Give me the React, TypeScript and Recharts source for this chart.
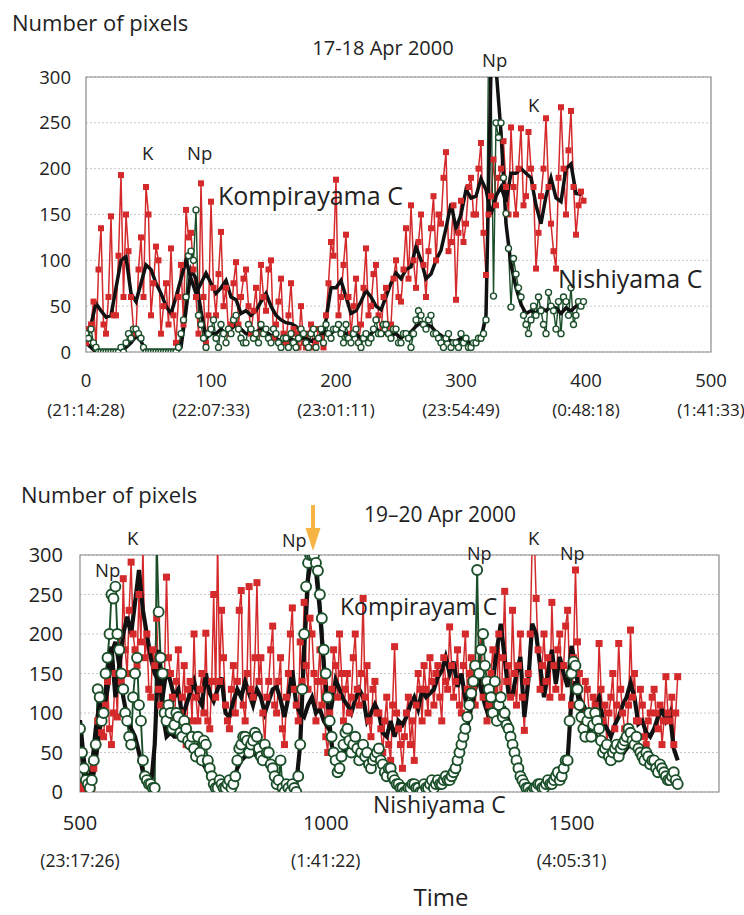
import React from "react";
import {
  ComposedChart,
  Line,
  XAxis,
  YAxis,
  CartesianGrid,
  ReferenceArea,
} from "recharts";

const FONT = "'Open Sans', 'Liberation Sans', Arial, sans-serif";
const TEXT = "#222";
const RED = "#d42a2c";
const GREEN = "#1b4f2a";
const AVG = "#111";

// 17-18 Apr 2000: raw counts every 2 frames, running means every 4 frames
const TOP_START = 0;
const TOP_RAW_STEP = 2;
const TOP_AVG_STEP = 4;
const topRed = [
  10, 25, 30, 55, 5, 90, 135, 30, 20, 60,
  148, 40, 40, 105, 193, 60, 150, 110, 60, 25,
  20, 90, 125, 60, 180, 150, 40, 75, 115, 100,
  20, 50, 75, 30, 113, 40, 10, 60, 95, 30,
  155, 125, 130, 90, 60, 20, 184, 60, 10, 40,
  164, 70, 40, 85, 131, 50, 70, 20, 30, 75,
  98, 30, 60, 80, 90, 50, 20, 45, 70, 20,
  95, 60, 45, 90, 100, 15, 30, 55, 80, 20,
  10, 40, 75, 25, 20, 5, 50, 10, 5, 20,
  30, 5, 10, 25, 15, 5, 40, 75, 120, 105,
  188, 40, 60, 95, 128, 60, 20, 50, 80, 10,
  30, 70, 113, 40, 50, 85, 95, 40, 20, 60,
  70, 20, 30, 80, 100, 60, 55, 90, 135, 80,
  160, 100, 70, 120, 150, 95, 60, 110, 135, 170,
  100, 150, 140, 190, 218, 110, 120, 160, 57, 130,
  165, 120, 140, 180, 190, 150, 150, 200, 228, 130,
  84, 150, 170, 210, 160, 190, 200, 230, 180, 150,
  245, 180, 150, 200, 244, 160, 170, 240, 200, 180,
  91, 130, 170, 200, 255, 180, 140, 110, 91, 190,
  267, 200, 150, 220, 263, 180, 128, 160, 175, 165,
];
const topGreen = [
  20, 15, 25, 10, 5, 0, 0, 0, 0, 0,
  0, 0, 0, 0, 5, 0, 10, 20, 15, 25,
  25, 20, 15, 5, 0, 0, 0, 0, 0, 0,
  0, 0, 0, 0, 0, 0, 0, 5, 20, 35,
  60, 105, 110, 100, 155, 40, 30, 15, 5, 20,
  25, 35, 15, 5, 30, 20, 10, 25, 20, 35,
  40, 25, 15, 10, 10, 30, 25, 15, 20, 10,
  30, 20, 25, 15, 10, 25, 20, 10, 5, 15,
  15, 5, 20, 10, 5, 15, 25, 20, 10, 5,
  20, 25, 5, 15, 25, 10, 30, 20, 15, 25,
  25, 30, 20, 10, 30, 15, 10, 20, 25, 10,
  5, 15, 20, 10, 15, 25, 35, 20, 20, 30,
  30, 20, 15, 25, 25, 10, 10, 20, 20, 15,
  5, 20, 35, 45, 40, 30, 25, 35, 40, 20,
  20, 15, 10, 5, 15, 20, 5, 10, 10, 5,
  20, 10, 15, 5, 5, 10, 10, 15, 15, 20,
  35, 330, 310, 61, 250, 234, 250, 190, 151, 113,
  49, 102, 85, 70, 60, 40, 30, 20, 35, 50,
  40, 60, 45, 30, 20, 65, 50, 45, 25, 55,
  20, 60, 55, 40, 70, 30, 40, 55, 50, 55,
];
const topRedAvg = [
  20, 30, 53, 45, 38, 40, 70, 100, 104, 64,
  55, 75, 95, 90, 75, 64, 50, 42, 60, 80,
  100, 80, 64, 75, 86, 75, 64, 70, 78, 60,
  57, 42, 45, 40, 45, 55, 64, 50, 40, 35,
  32, 31, 28, 22, 15, 12, 10, 15, 35, 70,
  70, 78, 60, 42, 45, 55, 67, 60, 50, 46,
  60, 75, 86, 80, 90, 93, 115, 100, 80, 85,
  100, 111, 135, 162, 135, 150, 177, 168, 170, 189,
  177, 150, 170, 180, 164, 195, 195, 200, 195, 190,
  160, 140, 170, 190, 168, 164, 200, 205, 173, 172,
];
const topGreenAvg = [
  10, 5, 0, 0, 0, 0, 0, 0, 5, 10,
  17, 12, 0, 0, 0, 0, 0, 0, 0, 5,
  45, 90, 80, 45, 15, 20, 20, 25, 20, 25,
  30, 25, 20, 20, 22, 25, 22, 18, 15, 12,
  12, 14, 12, 15, 14, 12, 14, 18, 22, 20,
  25, 22, 20, 18, 20, 15, 18, 20, 25, 22,
  20, 18, 20, 15, 20, 22, 28, 32, 30, 28,
  22, 18, 15, 12, 12, 15, 12, 10, 12, 15,
  40, 310, 310, 240, 140, 95, 70, 52, 42, 45,
  42, 48, 45, 50, 48, 42, 48, 45, 50, 55,
];
const topTicks = [0, 100, 200, 300, 400, 500];
const topTimes = ["(21:14:28)", "(22:07:33)", "(23:01:11)", "(23:54:49)", "(0:48:18)", "(1:41:33)"];

// 19-20 Apr 2000: raw counts every 4 frames, running means every 8 frames
const BOTTOM_START = 500;
const BOTTOM_RAW_STEP = 4;
const BOTTOM_AVG_STEP = 8;
const bottomRed = [
  10, 0, 5, 10, 0, 5, 5, 30, 60, 90, 120, 75, 70, 110, 140, 80, 60, 100, 150, 95,
  200, 140, 270, 180, 150, 230, 291, 200, 180, 160, 250, 190, 310, 170, 200, 130, 120, 180, 160, 220,
  130, 110, 100, 150, 272, 170, 150, 120, 90, 140, 180, 100, 120, 160, 60, 130, 140, 90, 200, 120,
  90, 130, 150, 100, 201, 90, 80, 140, 250, 120, 320, 140, 230, 170, 110, 90, 80, 130, 160, 100,
  140, 230, 255, 110, 90, 150, 260, 130, 120, 170, 265, 140, 170, 100, 60, 120, 140, 180, 210, 110,
  100, 140, 170, 80, 60, 120, 150, 200, 233, 130, 110, 90, 190, 140, 240, 160, 130, 220, 200, 150,
  90, 140, 180, 110, 140, 70, 50, 100, 130, 180, 160, 120, 200, 150, 90, 130, 150, 100, 120, 170,
  200, 130, 110, 150, 245, 120, 160, 90, 70, 130, 140, 100, 100, 80, 50, 90, 120, 60, 40, 110,
  184, 100, 80, 60, 30, 70, 100, 120, 60, 90, 40, 110, 150, 130, 90, 160, 130, 100, 170, 140,
  110, 150, 160, 120, 90, 170, 140, 130, 209, 160, 120, 140, 180, 110, 100, 160, 200, 130, 150, 170,
  130, 110, 150, 180, 200, 120, 140, 90, 110, 150, 180, 130, 120, 200, 90, 170, 254, 140, 160, 120,
  230, 150, 110, 160, 200, 120, 78, 140, 150, 200, 320, 330, 245, 180, 130, 160, 200, 140, 170, 120,
  240, 160, 130, 180, 200, 120, 160, 210, 230, 150, 110, 170, 281, 190, 150, 110, 90, 140, 130, 100,
  70, 120, 110, 90, 188, 130, 90, 110, 60, 100, 120, 150, 80, 110, 188, 130, 100, 80, 70, 110,
  205, 120, 150, 90, 90, 130, 110, 70, 60, 90, 100, 120, 130, 100, 80, 110, 60, 90, 146, 100,
  90, 120, 60, 100, 146,
];
const bottomGreen = [
  80, 50, 30, 15, 10, 5, 15, 40, 60, 130, 120, 90, 100, 150, 170, 200, 250, 245, 260, 200,
  180, 150, 130, 100, 90, 70, 60, 120, 150, 170, 110, 90, 40, 20, 15, 10, 10, 5, 5, 320,
  228, 170, 150, 100, 90, 110, 100, 80, 85, 100, 95, 75, 70, 90, 80, 65, 60, 70, 55, 45,
  70, 50, 40, 65, 60, 40, 30, 20, 10, 5, 5, 15, 10, 5, 5, 10, 15, 5, 10, 20,
  40, 55, 60, 70, 70, 65, 50, 60, 65, 75, 70, 55, 45, 40, 60, 50, 50, 35, 30, 20,
  10, 15, 40, 5, 0, 10, 5, 0, 10, 5, 0, 20, 60, 130, 200, 260, 290, 300, 300, 300,
  290, 280, 250, 220, 180, 150, 120, 90, 70, 50, 40, 25, 30, 45, 60, 75, 80, 65, 50, 60,
  70, 55, 40, 50, 60, 45, 50, 35, 30, 40, 45, 50, 55, 40, 35, 25, 20, 30, 30, 20,
  15, 10, 10, 5, 5, 0, 0, 5, 5, 10, 10, 5, 5, 0, 0, 10, 5, 5, 10, 15,
  5, 10, 15, 10, 10, 15, 20, 15, 15, 20, 25, 30, 40, 50, 60, 70, 80, 95, 110, 125,
  140, 160, 281, 150, 180, 200, 160, 140, 130, 120, 100, 140, 90, 110, 120, 95, 100, 85, 80, 70,
  60, 50, 40, 30, 20, 15, 10, 5, 5, 0, 0, 5, 5, 10, 10, 5, 5, 10, 15, 10,
  10, 15, 20, 25, 15, 20, 30, 40, 40, 90, 150, 165, 160, 130, 110, 95, 80, 70, 90, 100,
  70, 85, 100, 90, 80, 65, 50, 55, 60, 45, 40, 50, 55, 60, 45, 55, 60, 65, 70, 80,
  75, 65, 60, 70, 55, 50, 45, 40, 50, 45, 35, 40, 40, 30, 25, 35, 30, 25, 20, 15,
  15, 20, 25, 15, 10,
];
const bottomRedAvg = [
  91, 40, 10, 30, 80, 112, 100, 150, 184, 120,
  160, 200, 222, 200, 240, 281, 230, 200, 170, 150,
  140, 120, 155, 140, 120, 130, 95, 110, 125, 140,
  120, 110, 150, 125, 115, 130, 145, 100, 95, 115,
  130, 120, 140, 125, 110, 130, 120, 100, 115, 130,
  133, 117, 95, 120, 154, 110, 100, 95, 110, 120,
  100, 105, 90, 82, 110, 142, 130, 117, 110, 100,
  117, 130, 120, 90, 100, 111, 100, 75, 70, 90,
  70, 90, 85, 95, 110, 120, 105, 128, 120, 125,
  130, 145, 154, 171, 150, 165, 133, 150, 117, 125,
  117, 154, 129, 110, 95, 140, 180, 213, 170, 123,
  123, 150, 171, 95, 140, 213, 200, 160, 120, 150,
  180, 137, 171, 150, 133, 185, 160, 120, 110, 100,
  95, 110, 120, 90, 80, 70, 85, 95, 110, 120,
  138, 120, 86, 90, 75, 70, 80, 95, 104, 90,
  100, 55, 40,
];
const bottomGreenAvg = [
  78, 20, 5, 10, 40, 80, 100, 130, 175, 190,
  160, 120, 95, 80, 70, 50, 25, 10, 5, 60,
  180, 100, 70, 75, 70, 70, 68, 62, 55, 50,
  45, 38, 30, 20, 10, 8, 8, 10, 10, 12,
  30, 40, 45, 45, 50, 45, 40, 38, 35, 25,
  12, 10, 5, 5, 5, 10, 60, 180, 270, 300,
  280, 230, 160, 110, 60, 38, 40, 50, 55, 52,
  50, 48, 50, 45, 40, 38, 42, 35, 30, 25,
  18, 12, 8, 5, 5, 6, 5, 4, 6, 8,
  8, 10, 12, 15, 18, 25, 35, 50, 70, 95,
  120, 140, 150, 130, 110, 95, 90, 100, 105, 90,
  70, 45, 25, 12, 6, 4, 5, 6, 6, 8,
  10, 12, 15, 20, 40, 120, 140, 110, 90, 80,
  70, 72, 65, 55, 50, 45, 45, 45, 48, 55,
  60, 58, 52, 48, 45, 40, 38, 32, 28, 24,
  20, 22, 15,
];
const bottomTicks = [500, 1000, 1500];
const bottomTimes = ["(23:17:26)", "(1:41:22)", "(4:05:31)"];

const yTicks = [0, 50, 100, 150, 200, 250, 300];

const toRows = (start: number, step: number, values: number[]) =>
  values.map((v, i) => ({ t: start + i * step, v }));

const top = {
  red: toRows(TOP_START, TOP_RAW_STEP, topRed),
  green: toRows(TOP_START, TOP_RAW_STEP, topGreen),
  redAvg: toRows(TOP_START, TOP_AVG_STEP, topRedAvg),
  greenAvg: toRows(TOP_START, TOP_AVG_STEP, topGreenAvg),
};
const bottom = {
  red: toRows(BOTTOM_START, BOTTOM_RAW_STEP, bottomRed),
  green: toRows(BOTTOM_START, BOTTOM_RAW_STEP, bottomGreen),
  redAvg: toRows(BOTTOM_START, BOTTOM_AVG_STEP, bottomRedAvg),
  greenAvg: toRows(BOTTOM_START, BOTTOM_AVG_STEP, bottomGreenAvg),
};

const squareDot = (size: number) => (props: any) => {
  const { cx, cy, index } = props;
  if (cx == null || cy == null) return <g key={`sq-${index}`} />;
  return (
    <rect
      key={`sq-${index}`}
      x={cx - size / 2}
      y={cy - size / 2}
      width={size}
      height={size}
      fill={RED}
    />
  );
};

const xTick =
  (ticks: number[], times: string[], fs: number, tfs: number, d1: number, d2: number) =>
  (props: any) => {
    const { x, y, payload } = props;
    const i = ticks.indexOf(payload.value);
    return (
      <g>
        <text x={x} y={y + d1} textAnchor="middle" fontSize={fs} fill={TEXT} fontFamily={FONT}>
          {payload.value}
        </text>
        <text x={x} y={y + d2} textAnchor="middle" fontSize={tfs} fill={TEXT} fontFamily={FONT}>
          {times[i]}
        </text>
      </g>
    );
  };

interface PanelProps {
  series: typeof top;
  width: number;
  height: number;
  margin: { top: number; right: number; left: number; bottom: number };
  yWidth: number;
  xHeight: number;
  domain: [number, number];
  ticks: number[];
  times: string[];
  tickFont: number;
  timeFont: number;
  d1: number;
  d2: number;
  yMargin: number;
  square: number;
  circle: number;
  greenWidth: number;
  avgWidth: number;
}

const Panel: React.FC<PanelProps> = (p) => (
  <ComposedChart width={p.width} height={p.height} margin={p.margin}>
    <CartesianGrid vertical={false} stroke="#c8c8c8" strokeDasharray="2 2" />
    <XAxis
      dataKey="t"
      type="number"
      domain={p.domain}
      ticks={p.ticks}
      allowDataOverflow
      height={p.xHeight}
      axisLine={false}
      tickLine={false}
      tickSize={0}
      tickMargin={0}
      interval={0}
      tick={xTick(p.ticks, p.times, p.tickFont, p.timeFont, p.d1, p.d2)}
    />
    <YAxis
      type="number"
      domain={[0, 300]}
      ticks={yTicks}
      allowDataOverflow
      width={p.yWidth}
      axisLine={false}
      tickLine={false}
      tickSize={0}
      tickMargin={p.yMargin}
      interval={0}
      tick={{ fontSize: p.tickFont, fill: TEXT, fontFamily: FONT }}
    />
    <ReferenceArea
      x1={p.domain[0]}
      x2={p.domain[1]}
      y1={0}
      y2={300}
      fill="none"
      stroke="#8a8a8a"
      strokeWidth={1.2}
    />
    <Line
      data={p.series.red}
      dataKey="v"
      stroke={RED}
      strokeWidth={1.5}
      dot={squareDot(p.square)}
      isAnimationActive={false}
    />
    <Line
      data={p.series.green}
      dataKey="v"
      stroke={GREEN}
      strokeWidth={p.greenWidth}
      dot={{ r: p.circle, stroke: GREEN, strokeWidth: p.greenWidth, fill: "#fff" }}
      isAnimationActive={false}
    />
    <Line
      data={p.series.redAvg}
      dataKey="v"
      stroke={AVG}
      strokeWidth={p.avgWidth}
      dot={false}
      isAnimationActive={false}
    />
    <Line
      data={p.series.greenAvg}
      dataKey="v"
      stroke={AVG}
      strokeWidth={p.avgWidth}
      dot={false}
      isAnimationActive={false}
    />
  </ComposedChart>
);

const T: React.FC<{ x: number; y: number; size: number; children: React.ReactNode; anchor?: string }> = ({
  x,
  y,
  size,
  children,
  anchor,
}) => (
  <text x={x} y={y} fontSize={size} fill={TEXT} fontFamily={FONT} textAnchor={anchor || "start"}>
    {children}
  </text>
);

export default function App() {
  return (
    <div style={{ position: "absolute", left: 0, top: 0, width: 744, height: 915, background: "#fff" }}>
      <div style={{ position: "absolute", left: 0, top: 0 }}>
        <Panel
          series={top}
          width={744}
          height={430}
          margin={{ top: 77, right: 33, left: 0, bottom: 0 }}
          yWidth={86}
          xHeight={78}
          domain={[0, 500]}
          ticks={topTicks}
          times={topTimes}
          tickFont={18.5}
          timeFont={17}
          d1={35}
          d2={64}
          yMargin={15}
          square={6}
          circle={3}
          greenWidth={1.4}
          avgWidth={3.5}
        />
      </div>
      <div style={{ position: "absolute", left: 0, top: 440 }}>
        <Panel
          series={bottom}
          width={744}
          height={475}
          margin={{ top: 115, right: 25, left: 0, bottom: 0 }}
          yWidth={80}
          xHeight={123}
          domain={[500, 1800]}
          ticks={bottomTicks}
          times={bottomTimes}
          tickFont={20}
          timeFont={17.5}
          d1={38}
          d2={75}
          yMargin={17}
          square={7}
          circle={5}
          greenWidth={1.9}
          avgWidth={4.2}
        />
      </div>
      <svg
        width={744}
        height={915}
        style={{ position: "absolute", left: 0, top: 0, pointerEvents: "none" }}
      >
        <T x={12} y={31} size={22}>Number of pixels</T>
        <T x={383} y={55} size={20} anchor="middle">17-18 Apr 2000</T>
        <T x={142} y={160} size={18.5}>K</T>
        <T x={187} y={160} size={18.5}>Np</T>
        <T x={218} y={205} size={25}>Kompirayama C</T>
        <T x={482} y={67} size={18.5}>Np</T>
        <T x={528} y={112} size={18.5}>K</T>
        <T x={558} y={288} size={25}>Nishiyama C</T>

        <T x={21} y={503} size={22}>Number of pixels</T>
        <T x={440} y={522} size={21} anchor="middle">19–20 Apr 2000</T>
        <T x={95} y={577} size={18.5}>Np</T>
        <T x={127} y={545} size={18.5}>K</T>
        <T x={282} y={547} size={18}>Np</T>
        <T x={467} y={560} size={18}>Np</T>
        <T x={528} y={545} size={18.5}>K</T>
        <T x={560} y={560} size={18}>Np</T>
        <T x={340} y={615} size={23}>Kompirayam C</T>
        <T x={373} y={813} size={23}>Nishiyama C</T>
        <T x={441} y={906} size={24} anchor="middle">Time</T>

        <line x1={313} y1={505} x2={313} y2={530} stroke="#f5b443" strokeWidth={4} />
        <polygon points="305.5,528 320.5,528 313,551" fill="#f5b443" />
      </svg>
    </div>
  );
}
